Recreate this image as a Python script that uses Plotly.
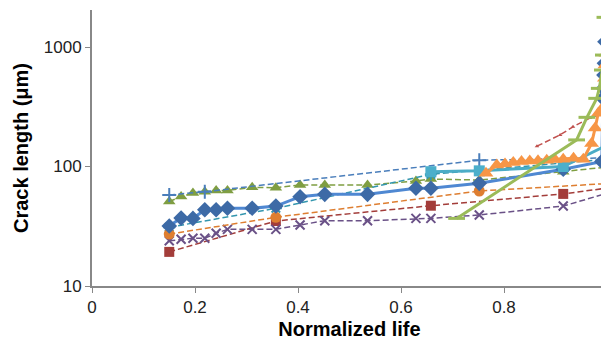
import plotly.graph_objects as go

# ---------------- data ----------------
x_blue_dia = [0.150, 0.173, 0.196, 0.219, 0.241, 0.263, 0.311, 0.357, 0.404, 0.452, 0.535, 0.629, 0.658, 0.752, 0.915, 0.990, 0.992, 0.993, 0.994, 0.995, 0.996]
y_blue_dia = [31.8, 37, 36.8, 43.5, 43.5, 44.7, 44.7, 46.7, 55.9, 58.5, 58.5, 65.7, 65.7, 72.3, 95, 110, 372, 451, 583, 731, 1107]

x_red_sq = [0.150, 0.357, 0.658, 0.915, 1.0]
y_red_sq = [19.3, 35, 47, 59, 66]

x_green_tri = [0.150, 0.173, 0.196, 0.219, 0.241, 0.263, 0.311, 0.357, 0.404, 0.452, 0.535, 0.629, 0.658, 0.752, 0.915, 1.0]
y_green_tri = [51, 56, 60, 61.5, 63, 63, 67, 66.5, 70, 70, 70, 75.6, 78.6, 77, 90.5, 99]

x_purple_x = [0.150, 0.173, 0.196, 0.219, 0.241, 0.263, 0.311, 0.357, 0.404, 0.452, 0.535, 0.629, 0.658, 0.752, 0.915, 1.0]
y_purple_x = [23.9, 24.6, 25.1, 25.1, 27.6, 29.8, 29.8, 29.8, 32.4, 35.2, 35.2, 36.8, 36.8, 39.3, 46.7, 59.7]

x_teal_star = [0.150, 0.357, 0.658, 1.0]
y_teal_star = [31, 44.7, 86, 115]

x_orange_circ = [0.150, 0.357, 0.752, 1.0]
y_orange_circ = [27.2, 37.6, 62.4, 72]

x_blue_plus = [0.150, 0.219, 0.752, 1.0]
y_blue_plus = [57.8, 61.5, 113, 118]

x_red_curve = [0.864, 0.909, 0.934, 0.967, 0.986]
y_red_curve = [148, 184, 215, 255, 270]

x_cyan_sq = [0.658, 0.752, 0.915, 1.0]
y_cyan_sq = [90.5, 92, 100, 151]

x_orange_tri = [0.765, 0.786, 0.802, 0.818, 0.834, 0.850, 0.866, 0.883, 0.899, 0.915, 0.935, 0.954, 0.970, 0.977, 0.983, 0.993, 0.995, 0.996, 0.998]
y_orange_tri = [87.7, 103, 105, 108, 110, 111, 112, 113, 114.5, 115, 117, 115, 156, 210, 279, 317, 547, 707, 886]

x_green_bar = [0.708, 0.941, 0.961, 0.980, 0.985, 0.991, 0.993, 0.996]
y_green_bar = [36.8, 167, 258, 372, 451, 642, 857, 1772]

x_tick_vals = [0, 0.2, 0.4, 0.6, 0.8, 1]
x_tick_text = ["0", "0.2", "0.4", "0.6", "0.8", "1"]
y_tick_vals = [10, 100, 1000]
y_tick_text = ["10", "100", "1000"]

DASH = "6px,3px"
FONT = "Liberation Sans, Arial, sans-serif"

fig = go.Figure()


def dashed(x, y, color, symbol, size, mline=0):
    fig.add_trace(go.Scatter(
        x=x, y=y, mode="lines+markers", cliponaxis=False,
        line=dict(color=color, width=1.5, dash=DASH),
        marker=dict(symbol=symbol, size=size, color=color,
                    line=dict(color=color, width=mline)),
    ))


dashed(x_red_sq, y_red_sq, "#A33D3A", "square", 10)
dashed(x_green_tri, y_green_tri, "#7F9E42", "triangle-up", 11)
dashed(x_purple_x, y_purple_x, "#6A5187", "x-thin-open", 9, 2)
dashed(x_teal_star, y_teal_star, "#3496AE", "asterisk-open", 10, 2)
dashed(x_orange_circ, y_orange_circ, "#DE7E30", "circle", 11)
dashed(x_blue_plus, y_blue_plus, "#4A7EBB", "cross-thin-open", 10, 2)
dashed(x_red_curve, y_red_curve, "#C0504D", "triangle-up", 4)

# blue diamonds, solid
fig.add_trace(go.Scatter(
    x=x_blue_dia, y=y_blue_dia, mode="lines+markers", cliponaxis=False,
    line=dict(color="#4F88D2", width=3),
    marker=dict(symbol="diamond", size=12, color="#3D6AA6"),
))
# cyan squares, solid
fig.add_trace(go.Scatter(
    x=x_cyan_sq, y=y_cyan_sq, mode="lines+markers", cliponaxis=False,
    line=dict(color="#4BACC6", width=3),
    marker=dict(symbol="square", size=11, color="#4BAFCB"),
))
# orange triangles, solid
fig.add_trace(go.Scatter(
    x=x_orange_tri, y=y_orange_tri, mode="lines+markers", cliponaxis=False,
    line=dict(color="#F79646", width=3),
    marker=dict(symbol="triangle-up", size=13, color="#F79646"),
))
# green with dash markers, solid
fig.add_trace(go.Scatter(
    x=x_green_bar, y=y_green_bar, mode="lines+markers", cliponaxis=False,
    line=dict(color="#9BBB59", width=3),
    marker=dict(symbol="line-ew", size=12, color="#9BBB59",
                line=dict(color="#9BBB59", width=3)),
))

axis_common = dict(
    showgrid=False, zeroline=False, showline=True, linecolor="#888888", linewidth=2,
    ticks="outside", ticklen=5, tickcolor="#888888", tickwidth=1,
    tickfont=dict(family=FONT, size=17, color="#222222"),
    mirror=False,
)

# the page body adds an 8px offset, so the figure is 8px smaller and margins shifted
fig.update_layout(
    width=601, height=338,
    margin=dict(l=84, r=2, t=2, b=60),
    paper_bgcolor="white", plot_bgcolor="white",
    showlegend=False,
    xaxis=dict(
        range=[0, 1], tickvals=x_tick_vals, ticktext=x_tick_text,
        title=dict(text="Normalized life", standoff=6,
                   font=dict(family=FONT, size=20, color="#000000", weight="bold")),
        **axis_common,
    ),
    yaxis=dict(
        type="log", range=[1, 3.31], tickvals=y_tick_vals, ticktext=y_tick_text,
        title=dict(text="Crack length (μm)", standoff=10,
                   font=dict(family=FONT, size=20, color="#000000", weight="bold")),
        **axis_common,
    ),
)

fig.write_html("out.html")
